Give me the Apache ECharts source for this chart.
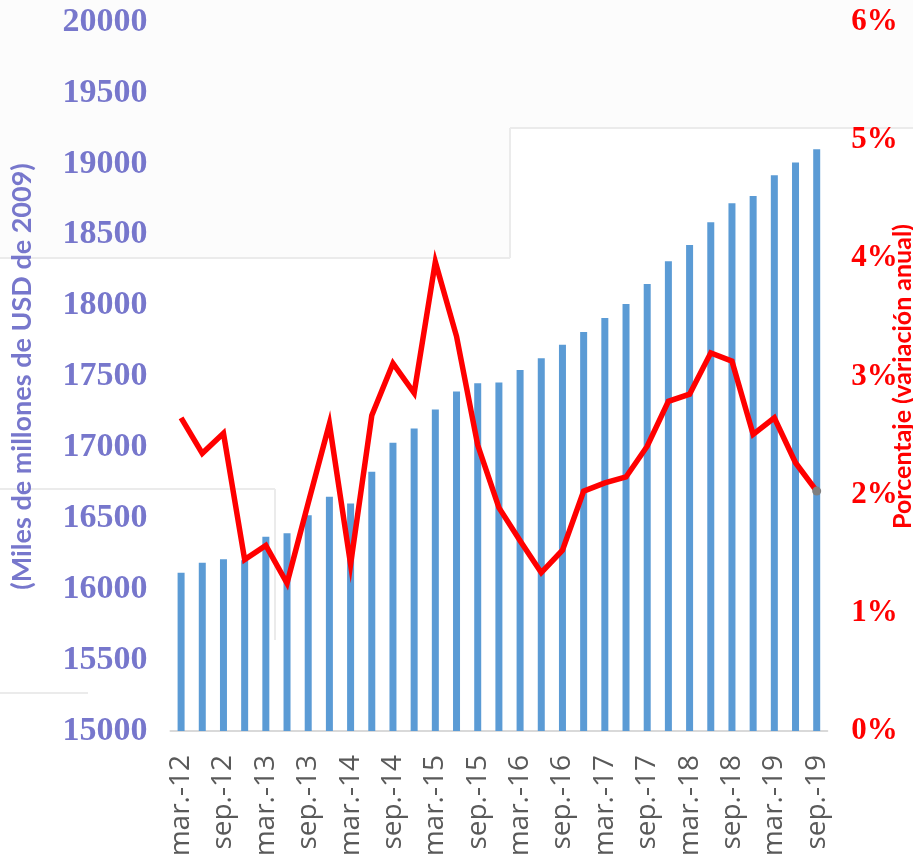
<!DOCTYPE html>
<html>
<head>
<meta charset="utf-8">
<script src="https://cdn.jsdelivr.net/npm/echarts@6/dist/echarts.min.js"></script>
<style>
html,body{margin:0;padding:0;background:#ffffff;}
#chart{width:913px;height:862px;}
</style>
</head>
<body>
<div id="chart"></div>
<script>
const categories = [
  'mar.-12','jun.-12','sep.-12','dic.-12',
  'mar.-13','jun.-13','sep.-13','dic.-13',
  'mar.-14','jun.-14','sep.-14','dic.-14',
  'mar.-15','jun.-15','sep.-15','dic.-15',
  'mar.-16','jun.-16','sep.-16','dic.-16',
  'mar.-17','jun.-17','sep.-17','dic.-17',
  'mar.-18','jun.-18','sep.-18','dic.-18',
  'mar.-19','jun.-19','sep.-19'
];
const gdpValues = [
  16116, 16187, 16211, 16205,
  16370, 16394, 16521, 16652,
  16605, 16829, 17033, 17134,
  17267, 17394, 17452, 17457,
  17546, 17628, 17724, 17814,
  17913, 18011, 18152, 18312,
  18427, 18587, 18721, 18773,
  18919, 19010, 19102
];
const growthValues = [
  2.65, 2.35, 2.52, 1.45,
  1.57, 1.25, 1.93, 2.60,
  1.41, 2.67, 3.11, 2.86,
  3.97, 3.34, 2.42, 1.89,
  1.61, 1.34, 1.53, 2.03,
  2.10, 2.15, 2.41, 2.79,
  2.85, 3.20, 3.13, 2.51,
  2.65, 2.27, 2.03
];
const leftTicks = { min: 15000, max: 20000, interval: 500 };
const rightTicks = { min: 0, max: 6, interval: 1 };

const lineData = growthValues.map((v, i) => {
  if (i === growthValues.length - 1) {
    return { value: v, symbol: 'circle', symbolSize: 9, itemStyle: { color: '#7f7f7f' } };
  }
  return v;
});

const chart = echarts.init(document.getElementById('chart'), null, { renderer: 'canvas' });
const faint = '#ebebeb';
chart.setOption({
  backgroundColor: '#ffffff',
  animation: false,
  graphic: [
    { type: 'rect', z: -10, shape: { x: 0, y: 0, width: 913, height: 128 }, style: { fill: '#fcfcfc' }, silent: true },
    { type: 'rect', z: -10, shape: { x: 0, y: 128, width: 510, height: 130 }, style: { fill: '#fcfcfc' }, silent: true },
    { type: 'line', z: -9, shape: { x1: 510, y1: 128, x2: 913, y2: 128 }, style: { stroke: faint, lineWidth: 2 }, silent: true },
    { type: 'line', z: -9, shape: { x1: 510, y1: 128, x2: 510, y2: 258 }, style: { stroke: faint, lineWidth: 2 }, silent: true },
    { type: 'line', z: -9, shape: { x1: 0, y1: 258, x2: 510, y2: 258 }, style: { stroke: faint, lineWidth: 2 }, silent: true },
    { type: 'line', z: -9, shape: { x1: 0, y1: 489, x2: 275, y2: 489 }, style: { stroke: faint, lineWidth: 2 }, silent: true },
    { type: 'line', z: -9, shape: { x1: 275, y1: 489, x2: 275, y2: 640 }, style: { stroke: faint, lineWidth: 2 }, silent: true },
    { type: 'line', z: -9, shape: { x1: 0, y1: 693, x2: 88, y2: 693 }, style: { stroke: faint, lineWidth: 2 }, silent: true }
  ],
  grid: { left: 170.5, right: 85.7, top: 22, bottom: 131, containLabel: false, outerBoundsMode: 'none' },
  xAxis: {
    type: 'category',
    data: categories,
    boundaryGap: true,
    axisLine: { show: true, lineStyle: { color: '#d9d9d9', width: 2 } },
    axisTick: { show: false },
    axisLabel: {
      interval: 1,
      rotate: 90,
      margin: 24,
      color: '#595959',
      fontFamily: 'Open Sans',
      fontSize: 28
    },
    splitLine: { show: false }
  },
  yAxis: [
    {
      type: 'value',
      min: leftTicks.min, max: leftTicks.max, interval: leftTicks.interval,
      position: 'left',
      name: '(Miles de millones de USD de 2009)',
      nameLocation: 'middle',
      nameRotate: 90,
      nameGap: 135,
      nameMoveOverlap: false,
      nameTextStyle: { color: '#7777cc', fontFamily: 'Lato', fontWeight: 'bold', fontSize: 27 },
      axisLine: { show: false },
      axisTick: { show: false },
      splitLine: { show: false },
      axisLabel: {
        margin: 23,
        color: '#7777cc',
        fontFamily: 'Liberation Serif',
        fontWeight: 'bold',
        fontSize: 34,
        formatter: v => String(v)
      }
    },
    {
      type: 'value',
      min: rightTicks.min, max: rightTicks.max, interval: rightTicks.interval,
      position: 'right',
      name: 'Porcentaje (variación anual)',
      nameLocation: 'middle',
      nameRotate: 90,
      nameGap: 63,
      nameMoveOverlap: false,
      nameTextStyle: { color: '#ff0000', fontFamily: 'Lato', fontWeight: 'bold', fontSize: 25 },
      axisLine: { show: false },
      axisTick: { show: false },
      splitLine: { show: false },
      axisLabel: {
        margin: 24,
        color: '#ff0000',
        fontFamily: 'Liberation Serif',
        fontWeight: 'bold',
        fontSize: 31,
        formatter: v => v + '%'
      }
    }
  ],
  series: [
    {
      type: 'bar',
      yAxisIndex: 0,
      data: gdpValues,
      barWidth: 7,
      itemStyle: { color: '#5b9bd5' },
      z: 2
    },
    {
      type: 'line',
      yAxisIndex: 1,
      data: lineData,
      showSymbol: true,
      symbol: 'none',
      clip: false,
      lineStyle: { color: '#ff0000', width: 5.5, join: 'miter' },
      itemStyle: { color: '#ff0000' },
      z: 3
    }
  ]
});
</script>
</body>
</html>
